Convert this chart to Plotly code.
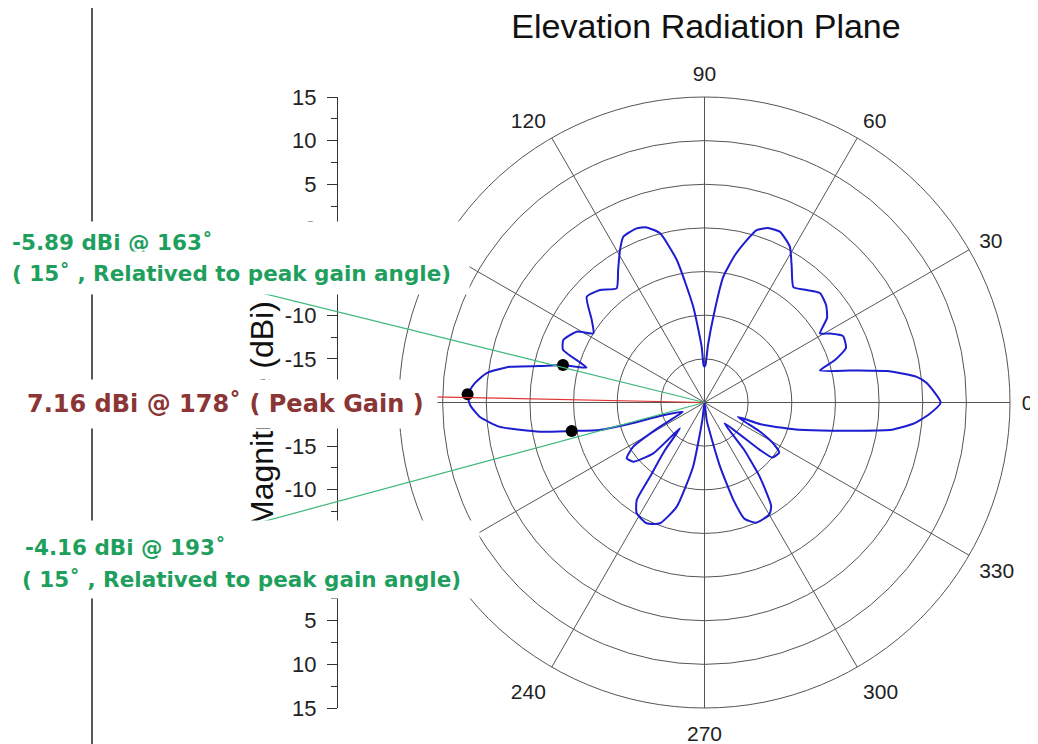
import math
import plotly.graph_objects as go

# ---------------- data ----------------
theta_deg = [0, 5.0, 6.9, 9.8, 10.9, 12.4, 15.5, 18.0, 21.1, 25.6, 28.8, 30.9, 34.6, 38.7,
             43.5, 47.8, 52.4, 57.3, 61.3, 66.2, 70.0, 73.2, 75.4, 78.3, 81.5, 84.1, 86.5,
             88.5, 90.0, 91.5, 92.9, 96.7, 101.0, 104.7, 108.3, 111.3, 116.1, 119.0, 123.1,
             127.6, 132.9, 138.1, 143.8, 148.1, 151.0, 156.1, 159.6, 163.5, 165.2, 167.5,
             169.6, 172.3, 175.1, 178.0, 180.6, 183.7, 186.8, 190.1, 192.1, 194.7, 196.0,
             196.9, 203.2, 208.5, 211.8, 215.6, 219.7, 224.8, 226.5, 230.3, 233.7, 235.2,
             238.5, 244.4, 249.8, 255.1, 259.9, 263.0, 270.0, 277.0, 280.2, 283.6, 286.5,
             289.0, 293.3, 300.2, 302.8, 306.7, 310.0, 314.0, 319.4, 321.0, 326.2, 329.4,
             332.4, 336.6, 338.8, 342.0, 343.9, 347.5, 349.6, 351.7, 354.2, 356.8, 360.0]
gain_dbi = [7.06, 5.55, 4.49, 1.21, -0.69, -2.93, -6.27, -4.28, -2.63, -2.4, -3.6, -4.58, -2.95, -2.15,
            -1.77, -2.59, -3.31, -1.51, 0.36, 1.39, 1.27, 0.64, -0.77, -2.75, -5.43, -10.12, -13.4,
            -15.7, -15.9, -15.7, -13.6, -8.95, -3.37, 0.05, 1.13, 1.41, 1.15, -0.03, -1.88,
            -3.5, -2.41, -1.87, -3.99, -5.0, -3.26, -2.31, -2.71, -5.89, -3.23, -0.7,
            2.66, 5.18, 6.38, 7.16, 6.86, 5.77, 3.59, -0.86, -4.44, -7.62, -11.48,
            -14.67, -17.3, -14.2, -10.4, -9.04, -9.39, -11.74, -15.92, -12.92, -9.45, -6.4,
            -5.12, -4.66, -5.26, -7.65, -12.53, -18.0, -20.0, -18.0, -16.5, -12.5, -8.4,
            -5.9, -5.0, -5.2, -5.9, -9.45, -13.0, -16.7, -11.7, -10.0, -9.7, -10.95,
            -12.9, -15.85, -13.2, -10.6, -8.7, -5.0, -2.05, 1.65, 4.05, 5.66, 7.06]

marker_theta = [165.2, 178.0, 192.1]
marker_gain = [-3.23, 7.16, -4.44]

angular_ticks = list(range(0, 360, 30))
radial_ticks = [-15, -10, -5, 0, 5, 10, 15]
radial_tick_text = ["-15", "-10", "-5", "0", "5", "10", "15"]
radial_minor = [-17.5, -12.5, -7.5, -2.5, 2.5, 7.5, 12.5]
r_min, r_max = -20, 15

leader_angles = [166.1, 178.8, 195.1]   # angles of the annotation leader lines
leader_colors = ["#3cb878", "#e03535", "#3cb878"]

title_text = "Elevation Radiation Plane"
axis_title = "Magnitude (dBi)"
note_top = ["-5.89 dBi @ 163˚", "( 15˚ , Relatived to peak gain angle)"]
note_peak = "7.16 dBi @ 178˚ ( Peak Gain )"
note_bottom = ["-4.16 dBi @ 193˚", "( 15˚ , Relatived to peak gain angle)"]

# ---------------- layout geometry (screen pixels -> paper) ----------------
OFF = 8  # page body offset
W, H = 1038 - OFF, 744 - OFF


def xp(sx):
    return (sx - OFF) / W


def yp(sy):
    return 1 - (sy - OFF) / H


cx_s, cy_s, R_px = 704.5, 402.5, 305.5
pdx = [xp(cx_s - R_px), xp(cx_s + R_px)]
pdy = [yp(cy_s + R_px), yp(cy_s - R_px)]
ymid = yp(cy_s)
FONT = "Arial, Liberation Sans, sans-serif"
NOTE_FONT = "DejaVu Sans, sans-serif"
GREEN = "#1f9f5e"
DARKRED = "#8b3535"
GRID = "#555555"

fig = go.Figure()

fig.add_trace(go.Scatterpolar(theta=theta_deg, r=gain_dbi, mode="lines",
                              line=dict(color="#1c1cd0", width=2, shape="spline", smoothing=0.5),
                              showlegend=False, hoverinfo="skip"))
fig.add_trace(go.Scatterpolar(theta=marker_theta, r=marker_gain, mode="markers",
                              marker=dict(color="black", size=12), showlegend=False))

# left mirrored magnitude axis (two halves)
fig.add_trace(go.Scatter(x=[None], y=[None], xaxis="x", yaxis="y", showlegend=False))
fig.add_trace(go.Scatter(x=[None], y=[None], xaxis="x", yaxis="y2", showlegend=False))

yax_common = dict(anchor="free", position=xp(337), side="left", showline=True,
                  linecolor="#333", linewidth=1, ticks="outside", ticklen=10,
                  tickcolor="#333", tickvals=radial_ticks, ticktext=radial_tick_text,
                  tickfont=dict(family=FONT, size=22, color="#222"),
                  minor=dict(tickvals=radial_minor, ticks="outside", ticklen=6, tickcolor="#333"),
                  showgrid=False, zeroline=False, fixedrange=True, ticklabelstandoff=6)

fig.update_layout(
    width=W, height=H, margin=dict(l=0, r=0, t=0, b=0, autoexpand=False),
    paper_bgcolor="white", plot_bgcolor="white", showlegend=False,
    title=dict(text=title_text, x=xp(706), xanchor="center", y=yp(26), yanchor="middle",
               font=dict(family=FONT, size=34, color="#111")),
    polar=dict(
        domain=dict(x=pdx, y=pdy), bgcolor="white",
        radialaxis=dict(range=[r_min, r_max], tickvals=radial_ticks, showticklabels=False,
                        ticks="", showline=False, gridcolor=GRID, gridwidth=1),
        angularaxis=dict(rotation=0, direction="counterclockwise", tickvals=angular_ticks,
                         ticks="outside", ticklen=7, tickcolor="rgba(0,0,0,0)",
                         showline=True, linecolor=GRID, linewidth=1,
                         gridcolor=GRID, gridwidth=1,
                         tickfont=dict(family=FONT, size=21, color="#222")),
    ),
    xaxis=dict(domain=[0, 0.001], visible=False, fixedrange=True),
    yaxis=dict(domain=[ymid, pdy[1]], range=[r_min, r_max], **yax_common),
    yaxis2=dict(domain=[pdy[0], ymid], range=[r_max, r_min], **yax_common),
)

# vertical divider line at far left
fig.add_shape(type="line", xref="paper", yref="paper", x0=xp(92), x1=xp(92), y0=-0.02, y1=1.02,
              line=dict(color="#222", width=1.5))

# leader lines, computed from angles
leader_len = [470, 272, 480]
for ang, L, col in zip(leader_angles, leader_len, leader_colors):
    a = math.radians(ang)
    fig.add_shape(type="line", xref="paper", yref="paper",
                  x0=xp(cx_s), y0=yp(cy_s),
                  x1=xp(cx_s + L * math.cos(a)), y1=yp(cy_s - L * math.sin(a)),
                  line=dict(color=col, width=1.2), layer="above")

# axis title
fig.add_annotation(text=axis_title, xref="paper", yref="paper", x=xp(242), y=yp(414),
                   textangle=-90, showarrow=False, font=dict(family=FONT, size=32, color="#111"))


def note(text, x_left, y_top, y_bot, x_right, color, size):
    fig.add_annotation(text="<b>" + text + "</b>", xref="paper", yref="paper",
                       x=xp(x_left), y=yp((y_top + y_bot) / 2), xanchor="left",
                       yanchor="middle", width=x_right - x_left, height=y_bot - y_top,
                       align="left", valign="middle", showarrow=False, bgcolor="white",
                       borderpad=0, font=dict(family=NOTE_FONT, size=size, color=color))


note(note_top[0], 11, 222, 262, 468, GREEN, 21.5)
note(note_top[1], 11, 252, 294, 468, GREEN, 21.5)
note(note_peak, 26, 380, 428, 436, DARKRED, 24)
note(note_bottom[0], 24, 521, 574, 478, GREEN, 21.5)
note(note_bottom[1], 21, 560, 598, 478, GREEN, 21.5)

fig.write_html("out.html")
